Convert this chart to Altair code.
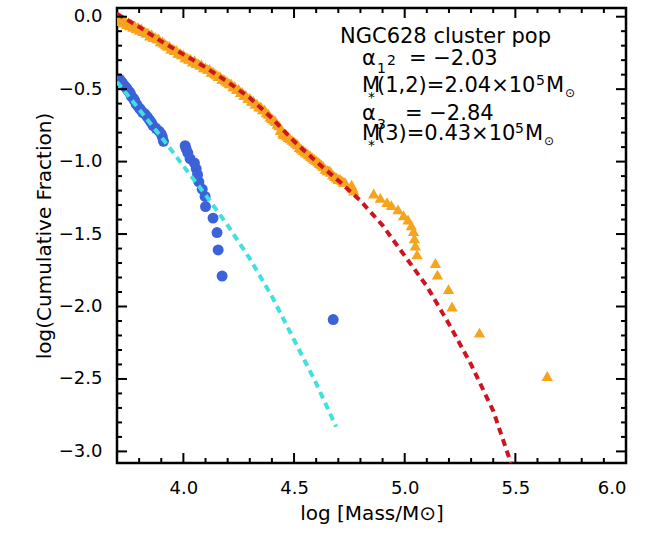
import altair as alt
import pandas as pd

# ---- cluster population (orange triangles): log mass vs log cumulative fraction
pop_mass = [
    3.700, 3.706, 3.712, 3.718, 3.725, 3.731, 3.738, 3.745, 3.752, 3.758,
    3.765, 3.772, 3.780, 3.787, 3.795, 3.802, 3.810, 3.818, 3.825, 3.832,
    3.840, 3.848, 3.856, 3.864, 3.872, 3.880, 3.888, 3.896, 3.905, 3.912,
    3.920, 3.928, 3.936, 3.944, 3.952, 3.960, 3.968, 3.976, 3.985, 3.992,
    4.000, 4.008, 4.016, 4.024, 4.032, 4.041, 4.050, 4.058, 4.066, 4.074,
    4.082, 4.091, 4.100, 4.109, 4.118, 4.126, 4.134, 4.142, 4.150, 4.158,
    4.166, 4.175, 4.183, 4.191, 4.200, 4.208, 4.216, 4.224, 4.232, 4.241,
    4.250, 4.258, 4.266, 4.274, 4.282, 4.291, 4.300, 4.308, 4.316, 4.324,
    4.332, 4.341, 4.350, 4.358, 4.366, 4.375, 4.384, 4.392, 4.400, 4.408,
    4.416, 4.424, 4.432, 4.438, 4.445, 4.450, 4.452, 4.458, 4.466, 4.474,
    4.482, 4.491, 4.500, 4.508, 4.516, 4.524, 4.532, 4.541, 4.550, 4.558,
    4.566, 4.574, 4.582, 4.591, 4.600, 4.608, 4.616, 4.624, 4.632, 4.641,
    4.650, 4.658, 4.666, 4.675, 4.684, 4.692, 4.700, 4.708, 4.716, 4.723,
    4.730, 4.760, 4.765, 4.770, 4.860, 4.890, 4.920, 4.940, 4.970, 4.995,
    5.015, 5.030, 5.040, 5.044, 5.048, 5.056, 5.139, 5.148, 5.198, 5.214,
    5.338, 5.644,
]
pop_logf = [
    -0.00, -0.02, -0.01, -0.03, -0.02, -0.04, -0.03, -0.05, -0.04, -0.06,
    -0.05, -0.07, -0.06, -0.08, -0.07, -0.09, -0.08, -0.10, -0.10, -0.11,
    -0.11, -0.13, -0.12, -0.14, -0.14, -0.15, -0.15, -0.17, -0.17, -0.18,
    -0.19, -0.20, -0.20, -0.22, -0.22, -0.23, -0.23, -0.25, -0.25, -0.26,
    -0.26, -0.28, -0.28, -0.29, -0.29, -0.31, -0.30, -0.32, -0.32, -0.33,
    -0.33, -0.35, -0.35, -0.36, -0.36, -0.38, -0.38, -0.39, -0.40, -0.41,
    -0.41, -0.43, -0.43, -0.44, -0.45, -0.46, -0.46, -0.48, -0.48, -0.50,
    -0.50, -0.52, -0.52, -0.54, -0.54, -0.56, -0.56, -0.58, -0.58, -0.60,
    -0.60, -0.62, -0.62, -0.64, -0.64, -0.66, -0.67, -0.69, -0.70, -0.71,
    -0.72, -0.74, -0.75, -0.78, -0.78, -0.80, -0.81, -0.81, -0.82, -0.83,
    -0.84, -0.85, -0.86, -0.87, -0.88, -0.90, -0.91, -0.92, -0.93, -0.94,
    -0.95, -0.96, -0.97, -0.98, -0.99, -1.00, -1.01, -1.02, -1.03, -1.05,
    -1.06, -1.06, -1.07, -1.09, -1.10, -1.11, -1.12, -1.12, -1.13, -1.14,
    -1.14, -1.16, -1.18, -1.20, -1.22, -1.25, -1.28, -1.30, -1.33, -1.37,
    -1.40, -1.44, -1.48, -1.53, -1.58, -1.64, -1.70, -1.78, -1.88, -2.00,
    -2.18, -2.48,
]

# ---- second sample (blue circles)
sub_mass = [
    3.710, 3.715, 3.720, 3.725, 3.730, 3.735, 3.742, 3.745, 3.750, 3.756,
    3.760, 3.765, 3.772, 3.776, 3.780, 3.786, 3.790, 3.800, 3.806, 3.815,
    3.826, 3.836, 3.846, 3.855, 3.862, 3.876, 3.890, 3.900, 3.905, 3.910,
    4.008, 4.012, 4.020, 4.030, 4.050, 4.058, 4.064, 4.070, 4.085, 4.098,
    4.100, 4.134, 4.152, 4.157, 4.175, 4.677,
]
sub_logf = [
    -0.43, -0.44, -0.45, -0.46, -0.47, -0.48, -0.49, -0.50, -0.51, -0.52,
    -0.53, -0.55, -0.56, -0.57, -0.58, -0.60, -0.61, -0.63, -0.64, -0.66,
    -0.67, -0.69, -0.71, -0.73, -0.75, -0.77, -0.79, -0.81, -0.83, -0.86,
    -0.89, -0.91, -0.94, -0.98, -1.01, -1.05, -1.09, -1.14, -1.19, -1.24,
    -1.31, -1.39, -1.49, -1.61, -1.79, -2.09,
]

# ---- fitted cumulative curves
fit12_mass = [3.70, 3.80, 3.90, 4.00, 4.10, 4.20, 4.30, 4.40, 4.50, 4.60,
              4.70, 4.80, 4.90, 5.00, 5.10, 5.20, 5.30, 5.40, 5.48]
fit12_logf = [0.02, -0.07, -0.17, -0.26, -0.35, -0.45, -0.56, -0.70, -0.86, -1.00,
              -1.13, -1.27, -1.44, -1.65, -1.86, -2.12, -2.40, -2.72, -3.08]
fit3_mass = [3.70, 3.80, 3.90, 4.00, 4.10, 4.20, 4.30, 4.40, 4.50, 4.60, 4.69]
fit3_logf = [-0.45, -0.64, -0.83, -1.03, -1.23, -1.44, -1.67, -1.93, -2.23, -2.53, -2.83]

# ---- axis ticks
x_major = [4.0, 4.5, 5.0, 5.5, 6.0]
x_minor = [3.8, 3.9, 4.1, 4.2, 4.3, 4.4, 4.6, 4.7, 4.8, 4.9,
           5.1, 5.2, 5.3, 5.4, 5.6, 5.7, 5.8, 5.9]
y_major = [0.0, -0.5, -1.0, -1.5, -2.0, -2.5, -3.0]
y_minor = [-0.1, -0.2, -0.3, -0.4, -0.6, -0.7, -0.8, -0.9,
           -1.1, -1.2, -1.3, -1.4, -1.6, -1.7, -1.8, -1.9,
           -2.1, -2.2, -2.3, -2.4, -2.6, -2.7, -2.8, -2.9]

W, H = 509, 455
FONT = "DejaVu Sans"
ORANGE = "#f5a41c"
BLUE = "#3b62d8"
CYAN = "#40e0dc"
RED = "#cf1421"

xs = alt.Scale(domain=[3.7, 6.0], nice=False, zero=False)
ys = alt.Scale(domain=[-3.08, 0.06], nice=False, zero=False)

x_axis = alt.Axis(values=x_major, format=".1f", title="log [Mass/M\u2299]",
                  ticks=False, domain=False, grid=False, labelFont=FONT,
                  labelFontSize=18, labelColor="black", labelPadding=16,
                  titleFont=FONT, titleFontSize=20, titleFontWeight="normal",
                  titleColor="black", titlePadding=6)
y_axis = alt.Axis(values=y_major, format=".1f", title="log(Cumulative Fraction)",
                  ticks=False, domain=False, grid=False, labelFont=FONT,
                  labelFontSize=18, labelColor="black", labelPadding=15,
                  titleFont=FONT, titleFontSize=20, titleFontWeight="normal",
                  titleColor="black", titlePadding=4)


def X(field):
    return alt.X(field, scale=xs, axis=x_axis)


def Y(field):
    return alt.Y(field, scale=ys, axis=y_axis)


pop = alt.Chart(pd.DataFrame({"m": pop_mass, "f": pop_logf})).mark_point(
    shape="triangle-up", filled=True, size=130, color=ORANGE, opacity=1, clip=True
).encode(x=X("m:Q"), y=Y("f:Q"))

sub = alt.Chart(pd.DataFrame({"m": sub_mass, "f": sub_logf})).mark_circle(
    size=120, color=BLUE, opacity=1, clip=True
).encode(x=X("m:Q"), y=Y("f:Q"))

fit12 = alt.Chart(pd.DataFrame({"m": fit12_mass, "f": fit12_logf})).mark_line(
    color=RED, strokeWidth=4, strokeDash=[7, 5], clip=True
).encode(x=X("m:Q"), y=Y("f:Q"))

fit3 = alt.Chart(pd.DataFrame({"m": fit3_mass, "f": fit3_logf})).mark_line(
    color=CYAN, strokeWidth=4, strokeDash=[7, 5], clip=True
).encode(x=X("m:Q"), y=Y("f:Q"))


def tick_layer(values, side, length):
    base = alt.Chart(pd.DataFrame({"m": values} if side in ("bottom", "top")
                                  else {"f": values})).mark_rule(color="black", strokeWidth=2)
    if side in ("bottom", "top"):
        y0, y1 = (H, H - length) if side == "bottom" else (0, length)
        return base.encode(x=X("m:Q"), y=alt.value(y0), y2=alt.value(y1))
    x0, x1 = (0, length) if side == "left" else (W, W - length)
    return base.encode(y=Y("f:Q"), x=alt.value(x0), x2=alt.value(x1))


tick_layers = []
for side in ("bottom", "top"):
    tick_layers += [tick_layer(x_major, side, 10), tick_layer(x_minor, side, 5)]
for side in ("left", "right"):
    tick_layers += [tick_layer(y_major, side, 10), tick_layer(y_minor, side, 5)]

# annotation block: text pieces with sub/superscripts (pixel positions in the plot area)
notes = [
    ("NGC628 cluster pop", 223, 35, 21),
    ("\u03b1", 245, 57, 21), ("1", 260, 65, 14), ("2", 270, 57, 14),
    ("= \u22122.03", 292, 57, 21),
    ("M", 245, 84, 21), ("*", 251, 94, 14), ("(1,2)=2.04\u00d710", 260, 84, 21),
    ("5", 419, 77, 14), ("M", 429, 84, 21), ("\u2299", 448, 89, 12),
    ("\u03b1", 245, 112, 21), ("3", 260, 121, 14),
    ("= \u22122.84", 288, 112, 21),
    ("M", 245, 132, 21), ("*", 251, 142, 14), ("(3)=0.43\u00d710", 260, 132, 21),
    ("5", 398, 125, 14), ("M", 408, 132, 21), ("\u2299", 427, 137, 12),
]
note_layers = [
    alt.Chart(pd.DataFrame({"t": [t]})).mark_text(
        align="left", baseline="alphabetic", font=FONT, fontSize=s, color="black"
    ).encode(text="t:N", x=alt.value(px), y=alt.value(py))
    for t, px, py, s in notes
]

chart = alt.layer(pop, sub, fit12, fit3, *tick_layers, *note_layers).properties(
    width=W, height=H,
    autosize="none",
    padding={"left": 117, "top": 8, "right": 24, "bottom": 70},
    background="white",
).configure_view(stroke="black", strokeWidth=2.5)

chart.save("out.html", embed_options={"renderer": "svg", "actions": False})
